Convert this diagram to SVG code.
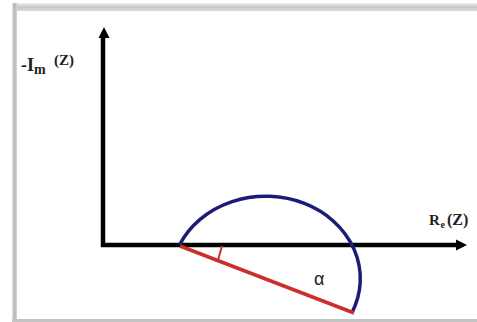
<svg xmlns="http://www.w3.org/2000/svg" width="477" height="322" viewBox="0 0 477 322">
<defs>
<linearGradient id="topg" x1="0" y1="0" x2="0" y2="1">
<stop offset="0" stop-color="#f0f0f0"/><stop offset="0.5" stop-color="#c8c8c8"/><stop offset="1" stop-color="#dcdcdc"/>
</linearGradient>
<linearGradient id="leftg" x1="0" y1="0" x2="1" y2="0">
<stop offset="0" stop-color="#e6e6e6"/><stop offset="0.5" stop-color="#b4b4b4"/><stop offset="1" stop-color="#d8d8d8"/>
</linearGradient>
<style>
.axis{fill:none;stroke:#000;stroke-width:4.5;stroke-linejoin:miter}
.lbl{font-family:"Liberation Serif","Times New Roman",serif;font-weight:bold;fill:#222}
</style>
</defs>
<rect width="477" height="322" fill="#fff"/>
<g id="frame">
<rect x="12" y="3" width="470" height="8" fill="url(#topg)"/>
<rect x="12" y="3" width="5" height="319" fill="url(#leftg)"/>
<rect x="12" y="319" width="470" height="3" fill="#c4c4c4"/>
</g>
<g id="connectors">
<polyline class="axis" points="103,36 103,245 458,245"/>
<polygon points="104,27 98.5,38 109.5,38" fill="#000"/>
<polygon points="467,245 456,239.5 456,250.5" fill="#000"/>
</g>
<g id="arc">
<path d="M179.5,245 A94,82 0 1,1 352,312.5" fill="none" stroke="#1c1c78" stroke-width="3.5"/>
</g>
<g id="line">
<line x1="180" y1="246" x2="354" y2="313" stroke="#c9302c" stroke-width="3.5"/>
<line x1="222" y1="246" x2="218" y2="260" stroke="#c9302c" stroke-width="2"/>
</g>
<g id="labels">
<text class="lbl" x="21" y="71" font-size="18">-I</text>
<text class="lbl" x="34" y="74" font-size="14">m</text>
<text class="lbl" x="54" y="65" font-size="15">(Z)</text>
<text class="lbl" x="429" y="225" font-size="15">R</text>
<text class="lbl" x="440.5" y="228" font-size="10">e</text>
<text class="lbl" x="447" y="225" font-size="16">(Z)</text>
<text x="314" y="285" font-family="'Liberation Sans',Arial,sans-serif" font-size="18" fill="#222">α</text>
</g>
</svg>
